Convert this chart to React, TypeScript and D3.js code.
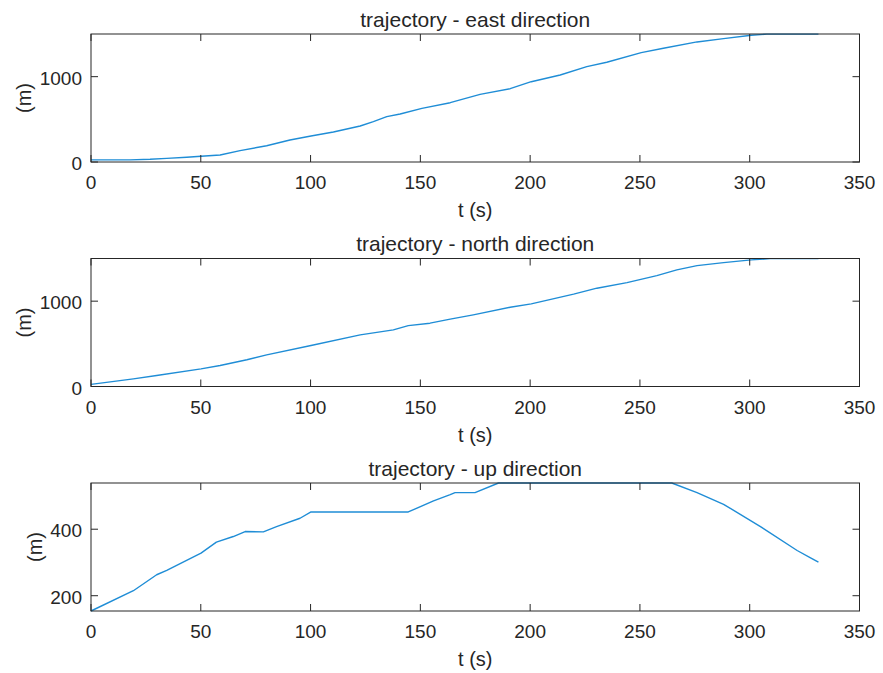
import { useEffect, useRef } from "react";
import * as d3 from "d3";

// time stamps (s) and positions (m)
const eastT = [0, 17.8, 26.9, 34.5, 43.6, 50.1, 58.8, 67.9, 80, 90.6, 100.2, 110.4, 122.6, 128.6, 134.7, 140.8, 150.7, 163.6, 177.2, 190.9, 200.5, 213.7, 225.8, 234.9, 250.6, 260.7, 276, 288.1, 300.7, 307.8, 331.3];
const eastV = [25, 25, 32, 43, 55, 67, 82, 133, 191, 258, 305, 352, 422, 473, 531, 563, 629, 695, 793, 859, 941, 1020, 1117, 1169, 1282, 1333, 1407, 1446, 1485, 1498, 1498];

const northT = [0, 19.3, 29.9, 50.1, 58.8, 71, 80, 100.2, 122.6, 137.7, 144.5, 154.4, 163.6, 174.1, 190.9, 200.5, 219.8, 230.4, 244.1, 257.7, 266.8, 276, 288.1, 300.7, 309.3, 331.3];
const northV = [25, 90, 129, 207, 246, 313, 371, 480, 605, 664, 714, 742, 789, 840, 929, 968, 1082, 1152, 1218, 1300, 1366, 1417, 1452, 1484, 1498, 1498];

const upT = [0, 19.3, 29.9, 34.5, 50.1, 57.1, 64.8, 70.2, 78.5, 84.5, 95.2, 100.2, 144.5, 156, 163.6, 165.8, 174.9, 185.6, 264.5, 276, 288.1, 304.9, 321.6, 327.7, 331.3];
const upV = [154, 215, 263, 276, 328, 361, 378, 393, 392, 408, 433, 452, 452, 485, 504, 510, 510, 539, 539, 510, 475, 408, 336, 314, 301];

const xTicks = [0, 50, 100, 150, 200, 250, 300, 350];
const bigTicks = [0, 1000];
const upTicks = [200, 400];

const panels = [
    { title: "trajectory - east direction", t: eastT, v: eastV, yDomain: [0, 1500], yTicks: bigTicks, top: 34, labelX: 31 },
    { title: "trajectory - north direction", t: northT, v: northV, yDomain: [0, 1500], yTicks: bigTicks, top: 258.5, labelX: 31 },
    { title: "trajectory - up direction", t: upT, v: upV, yDomain: [154, 539], yTicks: upTicks, top: 483, labelX: 42 },
];

const App = () => {
    const ref = useRef<SVGSVGElement | null>(null);

    useEffect(() => {
        const svg = d3.select(ref.current);
        svg.selectAll("*").remove();

        const left = 91;
        const right = 859.5;
        const plotH = 128;
        const ink = "#262626";
        const font = "'Liberation Sans', Arial, Helvetica, sans-serif";
        const tickLen = 7;

        const x = d3.scaleLinear().domain([0, 350]).range([left, right]);

        panels.forEach((p) => {
            const top = p.top;
            const bottom = top + plotH;
            const y = d3.scaleLinear().domain(p.yDomain).range([bottom, top]);
            const g = svg.append("g");

            // data line
            const pts = p.t.map((t, i) => [t, p.v[i]] as [number, number]);
            const line = d3.line<[number, number]>()
                .x(d => x(d[0]))
                .y(d => y(d[1]));
            g.append("path")
                .datum(pts)
                .attr("fill", "none")
                .attr("stroke", "#1f8dd6")
                .attr("stroke-width", 1.4)
                .attr("stroke-linejoin", "round")
                .attr("d", line);

            // box
            g.append("rect")
                .attr("x", left)
                .attr("y", top)
                .attr("width", right - left)
                .attr("height", plotH)
                .attr("fill", "none")
                .attr("stroke", ink)
                .attr("stroke-width", 1);

            // x ticks, top and bottom, pointing inward
            xTicks.forEach((t) => {
                const xp = x(t);
                g.append("line").attr("x1", xp).attr("x2", xp)
                    .attr("y1", bottom).attr("y2", bottom - tickLen)
                    .attr("stroke", ink);
                g.append("line").attr("x1", xp).attr("x2", xp)
                    .attr("y1", top).attr("y2", top + tickLen)
                    .attr("stroke", ink);
                g.append("text")
                    .attr("x", xp)
                    .attr("y", bottom + 27)
                    .attr("text-anchor", "middle")
                    .attr("font-family", font)
                    .attr("font-size", 19)
                    .attr("fill", ink)
                    .text(t);
            });

            // y ticks, left and right
            p.yTicks.forEach((v) => {
                const yp = y(v);
                g.append("line").attr("x1", left).attr("x2", left + tickLen)
                    .attr("y1", yp).attr("y2", yp).attr("stroke", ink);
                g.append("line").attr("x1", right).attr("x2", right - tickLen)
                    .attr("y1", yp).attr("y2", yp).attr("stroke", ink);
                g.append("text")
                    .attr("x", left - 9)
                    .attr("y", yp + 8)
                    .attr("text-anchor", "end")
                    .attr("font-family", font)
                    .attr("font-size", 19)
                    .attr("fill", ink)
                    .text(v);
            });

            // title
            g.append("text")
                .attr("x", (left + right) / 2)
                .attr("y", top - 7.5)
                .attr("text-anchor", "middle")
                .attr("font-family", font)
                .attr("font-size", 21)
                .attr("fill", ink)
                .text(p.title);

            // x label
            g.append("text")
                .attr("x", (left + right) / 2)
                .attr("y", bottom + 55)
                .attr("text-anchor", "middle")
                .attr("font-family", font)
                .attr("font-size", 20)
                .attr("fill", ink)
                .text("t (s)");

            // y label
            g.append("text")
                .attr("transform", `translate(${p.labelX},${(top + bottom) / 2}) rotate(-90)`)
                .attr("text-anchor", "middle")
                .attr("font-family", font)
                .attr("font-size", 20)
                .attr("fill", ink)
                .text("(m)");
        });
    }, []);

    return (
        <svg
            ref={ref}
            width={883}
            height={673}
            style={{ position: "absolute", left: 0, top: 0, background: "#ffffff" }}
        />
    );
};

export default App;
